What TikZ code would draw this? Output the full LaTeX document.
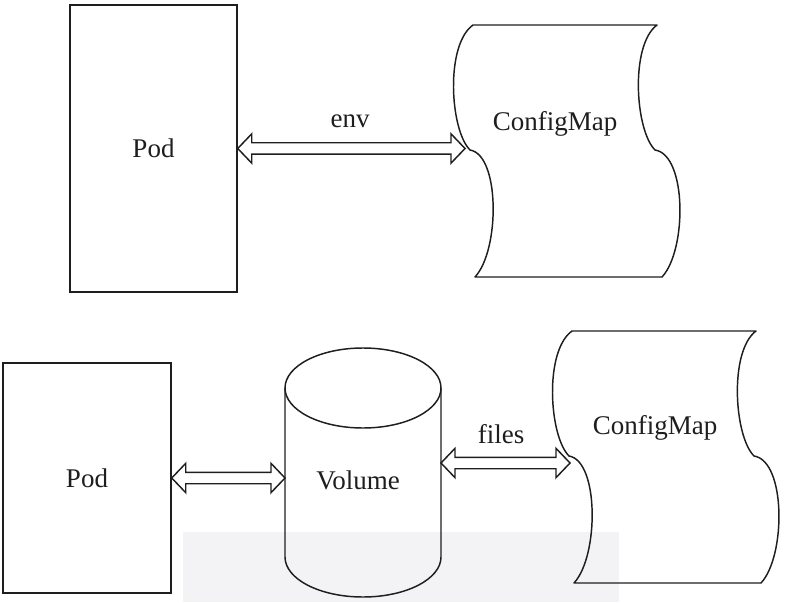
\documentclass[tikz,border=0pt]{standalone}
\usepackage{fontspec}
\setmainfont{Liberation Serif}
\usetikzlibrary{calc}
\definecolor{ln}{HTML}{1E1E1E}
\definecolor{bandgray}{HTML}{F3F3F6}
\tikzset{
  lbl/.style={font=\fontsize{20.25pt}{24pt}\selectfont, inner sep=0pt, text=ln},
  box/.style={draw=ln, line width=1.1pt, inner sep=0pt, font=\fontsize{20.25pt}{24pt}\selectfont, text=ln},
  outl/.style={draw=ln, line width=1.1pt, line join=round},
  dblarrow/.style={to path={let \p1=(\tikztostart), \p2=(\tikztotarget) in
    (\x1,\y1) -- (\x1+10.5pt,\y1+11pt) -- (\x1+10.5pt,\y1+4.3pt) -- (\x2-10.5pt,\y1+4.3pt)
    -- (\x2-10.5pt,\y1+11pt) -- (\x2,\y1) -- (\x2-10.5pt,\y1-11pt) -- (\x2-10.5pt,\y1-4.3pt)
    -- (\x1+10.5pt,\y1-4.3pt) -- (\x1+10.5pt,\y1-11pt) -- cycle}},
  arr/.style={draw=ln, line width=1.1pt, line join=miter},
}
\newcommand{\cmshape}{%
  (473,25) -- (657,25)
  .. controls (630,45) and (635,130) .. (655,150)
  .. controls (687,155) and (687,250) .. (662,277)
  -- (475,277)
  .. controls (500,250) and (500,155) .. (470,150)
  .. controls (450,130) and (445,45) .. cycle}
\begin{document}
\begin{tikzpicture}[x=0.75pt,y=-0.75pt]
\useasboundingbox (0,0) rectangle (787,602);
% faint background band
\fill[bandgray] (183,532) rectangle (619,602);

% ---------- top row ----------
\node[box, minimum width=125.25pt, minimum height=215.25pt] (pod1) at (153.5,148.5) {Pod};
\draw[outl] \cmshape;
\node[lbl] (cm1) at (555,124) {ConfigMap};
\coordinate (cm1in) at (465,148);
\draw[arr] (pod1.east) to[dblarrow] (cm1in);
\node[lbl] (env) at (350,121) {env};

% ---------- bottom row ----------
\node[box, minimum width=126pt, minimum height=172.5pt] (pod2) at (87,478) {Pod};
% cylinder
\draw[outl] (363,388) ellipse [x radius=78, y radius=40];
\draw[outl] (285,388) -- (285,557) arc[start angle=180, end angle=0, x radius=78, y radius=40] -- (441,388);
\node[lbl] (vol) at (358,480) {Volume};
\coordinate (volW) at (285,478);
\coordinate (volE) at (441,463);
\begin{scope}[shift={(99,306)}]
\draw[outl] \cmshape;
\end{scope}
\node[lbl] (cm2) at (655,428) {ConfigMap};
\coordinate (cm2in) at (570,463);
\draw[arr] (pod2.east) to[dblarrow] (volW);
\draw[arr] (volE) to[dblarrow] (cm2in);
\node[lbl] (files) at (501,434) {files};
\end{tikzpicture}
\end{document}
